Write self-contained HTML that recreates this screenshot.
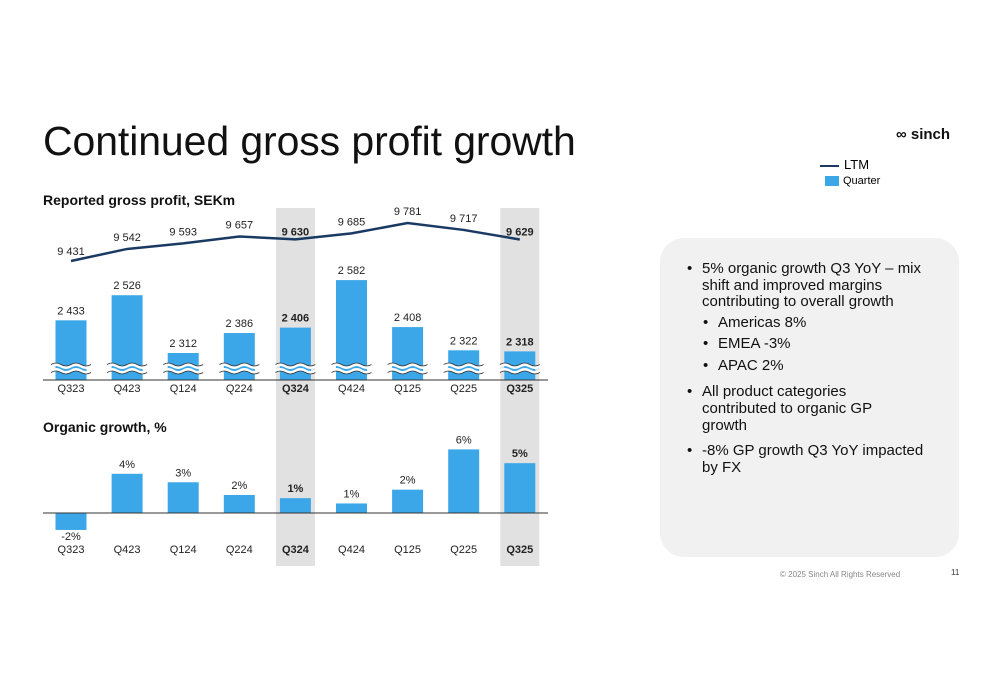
<!DOCTYPE html>
<html><head><meta charset="utf-8"><style>
body{margin:0;background:#fff;font-family:"Liberation Sans",sans-serif;}
#root{position:relative;width:1000px;height:685px;overflow:hidden;background:#fff}
.t{position:absolute;color:#111}
ul{margin:0;padding-left:16px;list-style:none}
li{position:relative}
li:before{content:"•";position:absolute;left:-15px}
</style></head><body>
<div id="root">
<div class="t" style="left:43px;top:118px;font-size:41px;letter-spacing:-0.1px">Continued gross profit growth</div>
<div class="t" style="left:896px;top:126px;font-size:15px;font-weight:bold">∞ sinch</div>
<div style="position:absolute;left:820px;top:157px;font-size:13px">
 <div><span style="display:inline-block;width:19px;height:2px;background:#1b3a63;vertical-align:middle;margin-right:5px"></span>LTM</div>
 <div style="font-size:11px;margin-top:3px;margin-left:5px"><span style="display:inline-block;width:14px;height:10px;background:#3ba7e8;vertical-align:middle;margin-right:4px"></span>Quarter</div>
</div>
<div class="t" style="left:43px;top:192px;font-size:14px;font-weight:bold">Reported gross profit, SEKm</div>
<div class="t" style="left:43px;top:419px;font-size:14px;font-weight:bold">Organic growth, %</div>
<div style="position:absolute;left:660px;top:238px;width:299px;height:319px;background:#f1f1f1;border-radius:24px"></div>
<div class="t" style="left:686px;top:261px;width:238px;font-size:15px;line-height:16.7px">
<ul>
<li style="margin-bottom:4px">5% organic growth Q3 YoY – mix shift and improved margins contributing to overall growth
 <ul style="margin-top:4px"><li style="margin-bottom:4.5px">Americas 8%</li><li style="margin-bottom:4.5px">EMEA -3%</li><li style="margin-bottom:10px">APAC 2%</li></ul></li>
<li style="margin-bottom:9px;width:200px">All product categories contributed to organic GP growth</li>
<li>-8% GP growth Q3 YoY impacted by FX</li>
</ul></div>
<div class="t" style="left:780px;top:570px;font-size:8px;color:#888">© 2025 Sinch All Rights Reserved</div>
<div class="t" style="left:951px;top:568px;font-size:8px;color:#333">11</div>
<svg id="chart" width="1000" height="685" style="position:absolute;left:0;top:0"></svg>
</div>
<script>
const categories=["Q323","Q423","Q124","Q224","Q324","Q424","Q125","Q225","Q325"];
const quarterValues=[2433,2526,2312,2386,2406,2582,2408,2322,2318];
const quarterLabels=["2 433","2 526","2 312","2 386","2 406","2 582","2 408","2 322","2 318"];
const ltmValues=[9431,9542,9593,9657,9630,9685,9781,9717,9629];
const ltmLabels=["9 431","9 542","9 593","9 657","9 630","9 685","9 781","9 717","9 629"];
const organicValues=[-1.6,3.7,2.9,1.7,1.4,0.9,2.2,6.0,4.7];
const organicLabels=["-2%","4%","3%","2%","1%","1%","2%","6%","5%"];
const highlighted=["Q324","Q325"];
const svg=document.getElementById('chart');
const NS="http://www.w3.org/2000/svg";
function mk(tag,attrs){const e=document.createElementNS(NS,tag);for(const k in attrs)e.setAttribute(k,attrs[k]);svg.appendChild(e);return e;}
const xC=i=>71+i*56.1;
const yQ=v=>380-(v-2212)*0.27;
const yL=v=>261-(v-9431)*0.1086;
const yO=v=>513-v*10.6;
const BW=31;
categories.forEach((c,i)=>{if(highlighted.includes(c)){const r=mk('rect',{x:xC(i)-19.5,y:208,width:39,height:358,fill:'#e1e1e1'});

}});
categories.forEach((c,i)=>{
 const b=highlighted.includes(c);
 const r=mk('rect',{x:xC(i)-BW/2,y:yQ(quarterValues[i]),width:BW,height:380-yQ(quarterValues[i]),fill:'#3ba7e8'});
 
 
 const br=mk('path',{d:`M${xC(i)-20} 366 q5 -3 10 0 t10 0 t10 0 t10 0 M${xC(i)-20} 371 q5 -3 10 0 t10 0 t10 0 t10 0`,stroke:'#fff',fill:'none','stroke-width':3});
 
 
 const br2=mk('path',{d:`M${xC(i)-20} 364.5 q5 -3 10 0 t10 0 t10 0 t10 0 M${xC(i)-20} 372.5 q5 -3 10 0 t10 0 t10 0 t10 0`,stroke:'#333',fill:'none','stroke-width':0.8});
 
 
 const t=mk('text',{x:xC(i),y:yQ(quarterValues[i])-6,'text-anchor':'middle','font-size':11,'font-weight':b?'bold':'normal',fill:'#222'});t.textContent=quarterLabels[i];
 
 
 const l=mk('text',{x:xC(i),y:yL(ltmValues[i])-(i==0?6:i==8||i==4?4:8),'text-anchor':'middle','font-size':11,'font-weight':b?'bold':'normal',fill:'#222'});l.textContent=ltmLabels[i];
 
 
 const ax=mk('text',{x:xC(i),y:392,'text-anchor':'middle','font-size':11,'font-weight':b?'bold':'normal',fill:'#222'});ax.textContent=c;
 
 
 const v=organicValues[i];
 const or=mk('rect',{x:xC(i)-BW/2,y:Math.min(yO(v),513),width:BW,height:Math.abs(yO(v)-513),fill:'#3ba7e8'});
 
 
 const ot=mk('text',{x:xC(i),y:v<0?yO(v)+10:yO(v)-6,'text-anchor':'middle','font-size':11,'font-weight':b?'bold':'normal',fill:'#222'});ot.textContent=organicLabels[i];
 
 
 const ox=mk('text',{x:xC(i),y:553,'text-anchor':'middle','font-size':11,'font-weight':b?'bold':'normal',fill:'#222'});ox.textContent=c;
 
 
});
const ln=mk('polyline',{points:ltmValues.map((v,i)=>xC(i)+','+yL(v)).join(' '),fill:'none',stroke:'#1b3a63','stroke-width':2.5});


const a1=mk('line',{x1:43,x2:548,y1:380,y2:380,stroke:'#333','stroke-width':1});


const a2=mk('line',{x1:43,x2:548,y1:513,y2:513,stroke:'#333','stroke-width':1});


</script>
</body></html>
